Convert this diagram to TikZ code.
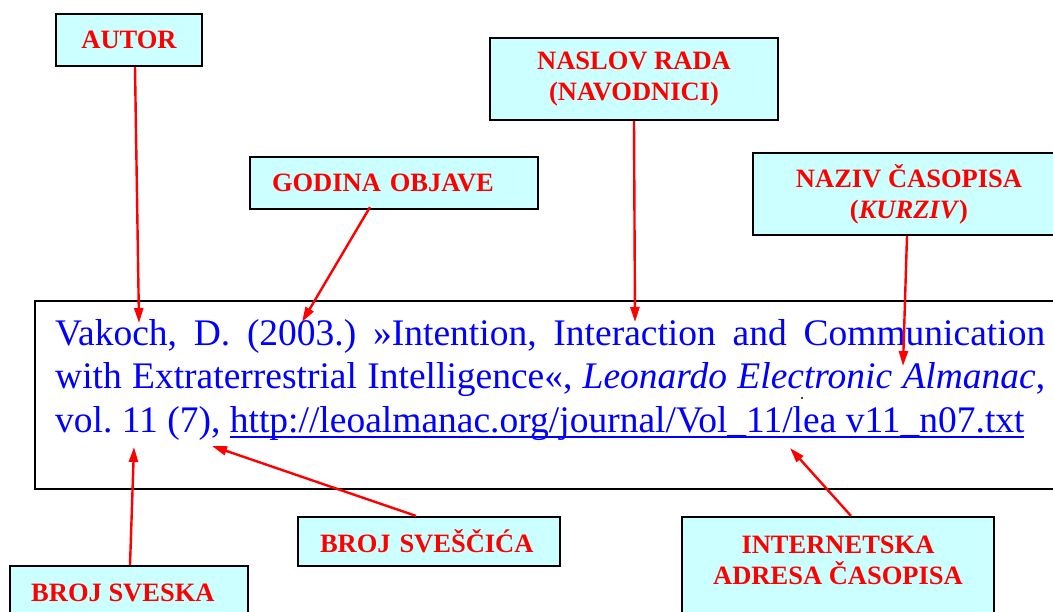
\documentclass[tikz,border=0pt]{standalone}
\usepackage{fontspec}
\setmainfont{Liberation Serif}
\usetikzlibrary{arrows.meta}
\definecolor{lblfill}{RGB}{204,255,255}
\definecolor{lblred}{RGB}{255,0,0}
\definecolor{txtblue}{RGB}{0,0,255}
\newcommand\ulinktext[1]{\setbox0\hbox{#1}\rlap{\rule[-6pt]{\wd0}{2pt}}\box0}
\begin{document}
\begin{tikzpicture}[x=1pt,y=-1pt,
  lblbox/.style={draw=black, line width=2.2pt, fill=lblfill, inner sep=0pt},
  lbl/.style={lblbox, text=lblred, font=\fontsize{26.5}{31}\selectfont\bfseries, align=center},
  lbltext/.style={text=lblred, font=\fontsize{26.5}{31}\selectfont\bfseries, align=center, inner sep=0pt},
  ptr/.style={draw=lblred, line width=2.4pt, -{Triangle[length=15pt,width=9pt]}},
  cite/.style={text=txtblue, font=\fontsize{37.5}{43.5}\selectfont\frenchspacing, inner sep=0pt, anchor=base west},
]
\useasboundingbox (0,0) rectangle (1053,611);

% main reference box
\node[draw=black, line width=2.2pt, minimum width=1036pt, minimum height=188pt, inner sep=0pt, anchor=north west] (main) at (34,300) {};

\node[cite] (l1) at (55,345) {\makebox[990pt][s]{Vakoch, D. (2003.) »Intention, Interaction and Communication}};
\node[cite] (l2) at (55,388.5) {\makebox[990pt][s]{with Extraterrestrial Intelligence«, \textit{Leonardo Electronic Almanac},}};
\node[cite] (l3) at (55,432) {vol. 11 (7), \ulinktext{http://leoalmanac.org/journal/Vol\_11/lea v11\_n07.txt}};
\fill (802,398) circle (1.1pt);

% labels
\node[lbl, minimum width=146pt, minimum height=52pt] (autor) at (129,40) {AUTOR};
\node[lbl, minimum height=52pt, text width=244pt, inner xsep=22pt, align=left] (godina) at (394,183) {GODINA OBJAVE};
\node[lbl, minimum width=288pt, minimum height=82pt] (naslov) at (634,79) {NASLOV RADA\\(NAVODNICI)};
\node[lbl, minimum width=312pt, minimum height=82pt] (naziv) at (909,194) {NAZIV ČASOPISA\\(\textit{KURZIV})};
\node[lbl, minimum height=49pt, text width=218pt, inner xsep=22pt, align=left] (svescic) at (429,541.5) {BROJ SVEŠČIĆA};
\node[lblbox, minimum width=238pt, minimum height=70pt] (sveska) at (129,601) {};
\node[lbltext, anchor=base west] (sveskatxt) at (31,601) {BROJ SVESKA};
\node[lblbox, minimum width=312pt, minimum height=110pt] (inet) at (838,572) {};
\node[lbltext] (inettxt) at (838,560) {INTERNETSKA\\ADRESA ČASOPISA};

% pointer targets
\coordinate (tAutor) at (139,323);
\coordinate (tGodina) at (302,322);
\coordinate (tNaslov) at (635,322);
\coordinate (tNaziv) at (903,366);
\coordinate (tSveska) at (134,447);
\coordinate (tSvescic) at (212,446);
\coordinate (tInet) at (790,448);

\draw[ptr] ([xshift=6pt]autor.south) -- (tAutor);
\draw[ptr] ([xshift=-24pt,yshift=3pt]godina.south) -- (tGodina);
\draw[ptr] (naslov.south) -- (tNaslov);
\draw[ptr] ([xshift=-2pt]naziv.south) -- (tNaziv);
\draw[ptr] ([xshift=1pt]sveska.north) -- (tSveska);
\draw[ptr] ([xshift=-13pt]svescic.north) -- (tSvescic);
\draw[ptr] ([xshift=13pt]inet.north) -- (tInet);
\end{tikzpicture}
\end{document}
